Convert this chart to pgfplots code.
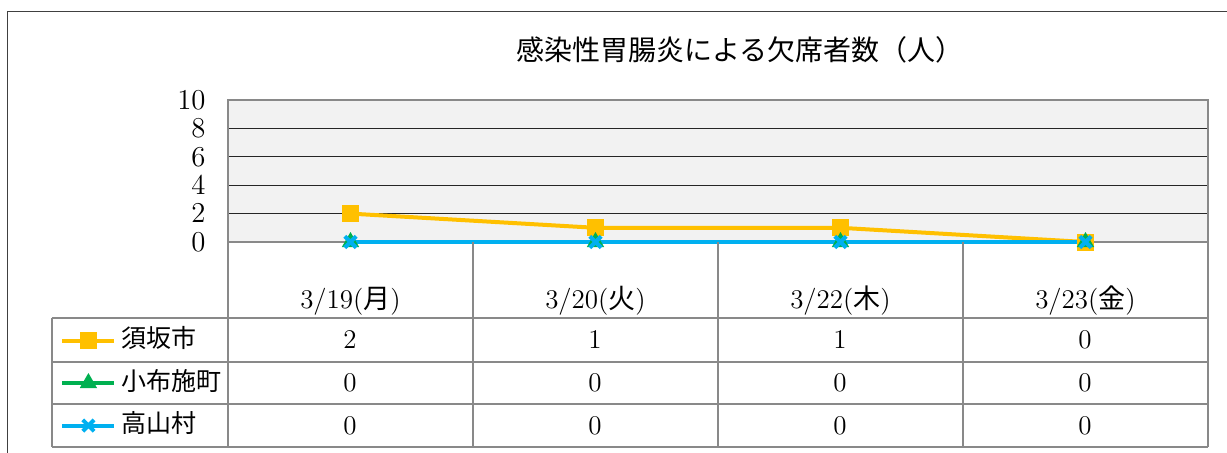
\documentclass[border=0pt]{standalone}
\usepackage{fontspec}
\usepackage{pgfplots}
\pgfplotsset{compat=1.18}
\newfontfamily\jp{Noto Sans CJK JP}
\definecolor{cOrange}{HTML}{FFC000}
\definecolor{cGreen}{HTML}{00B050}
\definecolor{cBlue}{HTML}{00B0F0}
\definecolor{bgGray}{HTML}{F2F2F2}
\definecolor{lineGray}{HTML}{898989}
\begin{document}
\begin{tikzpicture}
\useasboundingbox (-114pt,-105pt) rectangle (499.5pt,121pt);
\draw[black!75, line width=0.5pt] (-110pt,-106pt) -- (-110pt,115.5pt) -- (500pt,115.5pt);
\node[font=\jp\fontsize{14}{16}\selectfont] at (256pt,96pt) {感染性胃腸炎による欠席者数（人）};
\begin{axis}[
 scale only axis, width=490pt, height=71pt,
 xmin=0, xmax=4, ymin=0, ymax=10,
 axis background/.style={fill=bgGray},
 axis line style={lineGray, line width=1pt},
 ytick={0,2,...,10},
 ymajorgrids, major grid style={black!85, line width=0.6pt},
 major tick length=0pt,
 xtick={0.5,1.5,2.5,3.5},
 xticklabels={3/19({\jp 月}),3/20({\jp 火}),3/22({\jp 木}),3/23({\jp 金})},
 xticklabel style={anchor=center, yshift=-29.5pt},
 yticklabel style={inner sep=0pt, xshift=-11pt},
 tick label style={font=\fontsize{13.5}{15}\selectfont},
 clip=false,
 legend cell align=left,
 legend style={at={(axis description cs:-0.1714,-0.993)}, anchor=west, draw=none, fill=none, inner sep=0pt,
   font=\jp\fontsize{12.5}{14}\selectfont, row sep=8.25pt,
   nodes={inner sep=0pt, text height=10pt, text depth=3pt},
   /tikz/every odd column/.append style={column sep=2.5pt}},
 legend image code/.code={\draw[mark repeat=2,mark phase=2,#1] plot coordinates {(0pt,0pt)(13pt,0pt)(26pt,0pt)};},
]
\addplot[cOrange, line width=2pt, mark=square*, mark size=4pt, mark options={rounded corners=1pt, line width=0.5pt}] coordinates {(0.5,2)(1.5,1)(2.5,1)(3.5,0)};
\addlegendentry{須坂市}
\addplot[cGreen, line width=2pt, mark=triangle*, mark size=4.5pt, mark options={line width=0.5pt}] coordinates {(0.5,0)(1.5,0)(2.5,0)(3.5,0)};
\addlegendentry{小布施町}
\addplot[cBlue, line width=2pt, mark=x, mark size=4pt, mark options={line width=2pt}] coordinates {(0.5,0)(1.5,0)(2.5,0)(3.5,0)};
\addlegendentry{高山村}
\end{axis}
\begin{scope}[lineGray, line width=0.8pt]
\foreach \x in {0,122.5,245,367.5,490} \draw (\x pt,0pt) -- (\x pt,-102.5pt);
\foreach \y in {-38,-60,-81,-102.5} \draw (-88pt,\y pt) -- (490pt,\y pt);
\draw (-88pt,-38pt) -- (-88pt,-102.5pt);
\end{scope}
\begin{scope}[font=\fontsize{13.5}{15}\selectfont]
\foreach \x/\a/\b/\c in {61/2/0/0, 183.5/1/0/0, 306/1/0/0, 428.5/0/0/0} {
  \node at (\x pt,-49pt) {\a};
  \node at (\x pt,-70.5pt) {\b};
  \node at (\x pt,-91.75pt) {\c};
}
\end{scope}
\end{tikzpicture}
\end{document}
